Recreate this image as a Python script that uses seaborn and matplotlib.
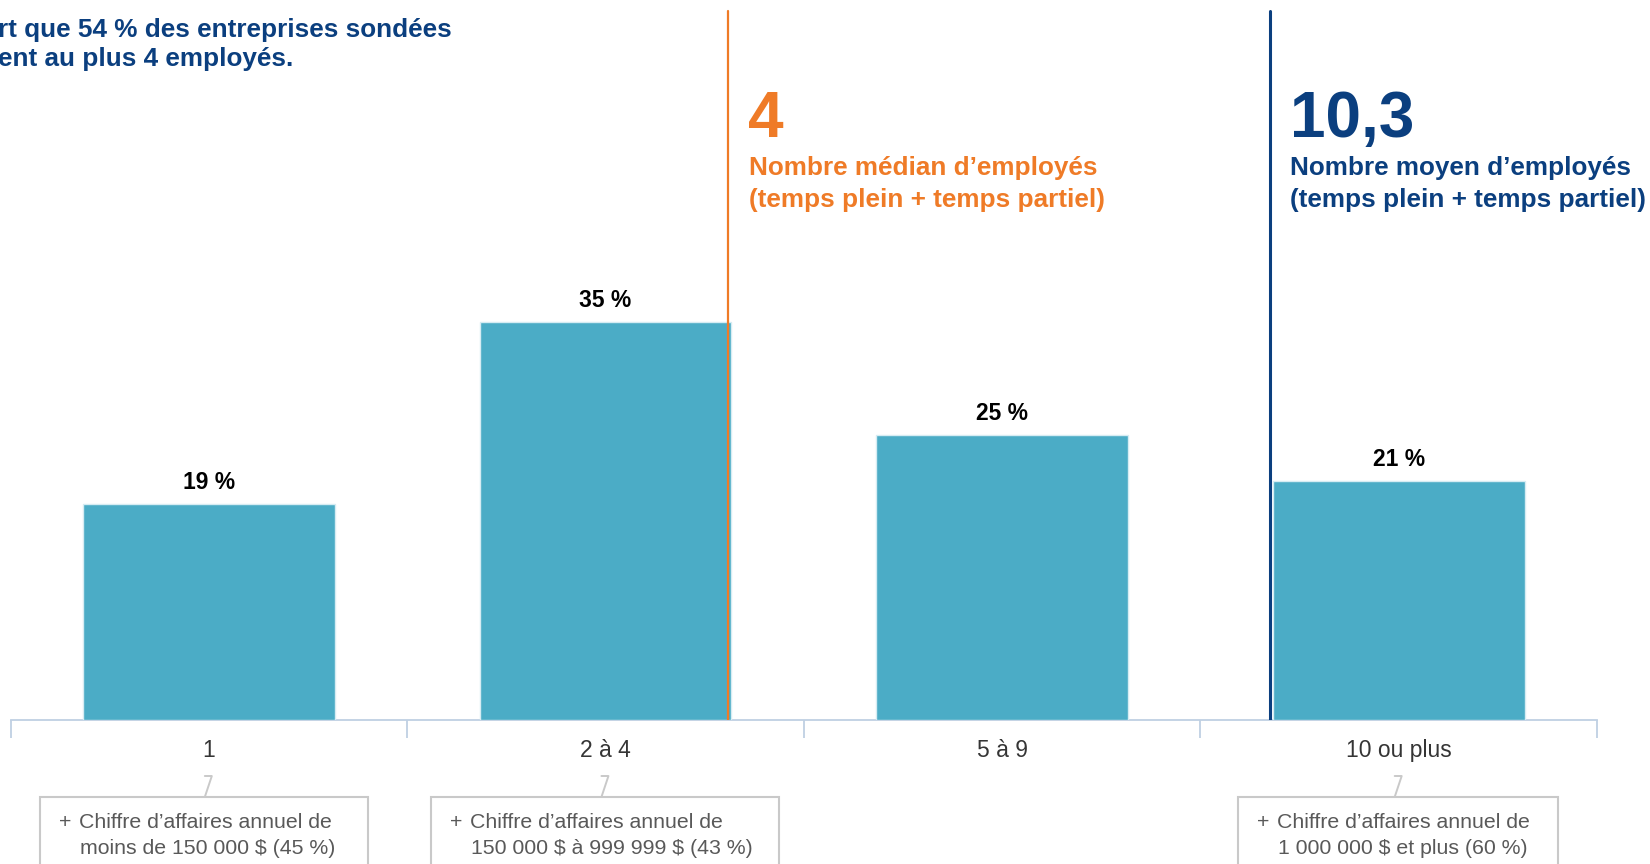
import matplotlib
matplotlib.use("Agg")
import matplotlib.pyplot as plt
from matplotlib import font_manager
from matplotlib.patches import Rectangle
from matplotlib.lines import Line2D
import seaborn as sns
import pandas as pd

# data
categories = ["1", "2 à 4", "5 à 9", "10 ou plus"]
shares = [19, 35, 25, 21]
share_labels = ["19 %", "35 %", "25 %", "21 %"]

median_value = "4"
median_text = ["Nombre médian d\u2019employés", "(temps plein + temps partiel)"]
mean_value = "10,3"
mean_text = ["Nombre moyen d\u2019employés", "(temps plein + temps partiel)"]

headline = ["rt que 54 % des entreprises sondées", "ent au plus 4 employés."]

box_categories = ["1", "2 à 4", "10 ou plus"]
box_lines = [
    ["Chiffre d\u2019affaires annuel de", "moins de 150 000 \\$ (45 %)"],
    ["Chiffre d\u2019affaires annuel de", "150 000 \\$ à 999 999 \\$ (43 %)"],
    ["Chiffre d\u2019affaires annuel de", "1 000 000 \\$ et plus (60 %)"],
]
box_left = [40, 431, 1238]
box_right = [368, 779, 1558]

BAR = "#4BACC6"
ORANGE = "#EF7B27"
NAVY = "#0B3F7F"
AXIS = "#BFD0E3"
BOXGREY = "#C9C9C9"

W, H = 1650, 864


def fx(px):
    return px / W


def fy(py):
    return 1 - py / H


# keep the narrow Liberation cut from being picked for "Liberation Sans"
font_manager.fontManager.ttflist = [f for f in font_manager.fontManager.ttflist
                                    if "Narrow" not in f.fname]

sns.set_theme(style="white")
plt.rcParams["font.family"] = ["Liberation Sans", "DejaVu Sans"]

fig = plt.figure(figsize=(16.5, 8.64), dpi=100)
ax = fig.add_axes([fx(10.5), fy(719.5), fx(1597) - fx(10.5), 719.5 / H])

df = pd.DataFrame({"cat": categories, "share": shares})
bar_w = 0.635
sns.barplot(data=df, x="cat", y="share", color=BAR, saturation=1, width=bar_w,
            edgecolor="#D6ECF3", linewidth=1, zorder=3, ax=ax)

ax.set_xlim(-0.5, 3.5)
ax.set_ylim(0, 63.3)
ax.set_xlabel("")
ax.set_ylabel("")
ax.set_yticks([])
for s in ["left", "top", "right"]:
    ax.spines[s].set_visible(False)
ax.spines["bottom"].set_color(AXIS)
ax.spines["bottom"].set_linewidth(1.3)
ax.spines["bottom"].set_zorder(1)

ax.set_xticks(range(len(categories)))
ax.set_xticklabels(categories)
ax.set_xticks([i - 0.5 for i in range(len(categories) + 1)], minor=True)
ax.tick_params(axis="x", which="major", length=0, pad=14, labelsize=16.5, labelcolor="#353535")
ax.tick_params(axis="x", which="minor", length=13, width=1.3, color=AXIS, direction="out")
ax.xaxis.set_ticks_position("bottom")

for i, (v, lab) in enumerate(zip(shares, share_labels)):
    ax.text(i, v + 1.32, lab, ha="center", va="baseline", fontsize=16.5,
            fontweight="bold", color="black")

# median / mean markers sit on the bar edges
top_frac = (719.5 - 10.5) / 719.5
ax.axvline(1 + bar_w / 2 - 0.008, ymin=0, ymax=top_frac, color=ORANGE, lw=1.6, zorder=4)
ax.axvline(3 - bar_w / 2 - 0.008, ymin=0, ymax=top_frac, color=NAVY, lw=2.2, zorder=4)

# headline, cut at the left edge
fig.text(fx(-2), fy(37), headline[0], ha="left", va="baseline", fontsize=18.8,
         fontweight="bold", color=NAVY)
fig.text(fx(-2), fy(66), headline[1], ha="left", va="baseline", fontsize=18.8,
         fontweight="bold", color=NAVY)

fig.text(fx(748), fy(137), median_value, ha="left", va="baseline", fontsize=46,
         fontweight="bold", color=ORANGE)
fig.text(fx(749), fy(175), median_text[0], ha="left", va="baseline", fontsize=18.8,
         fontweight="bold", color=ORANGE)
fig.text(fx(749), fy(207), median_text[1], ha="left", va="baseline", fontsize=18.8,
         fontweight="bold", color=ORANGE)

fig.text(fx(1290), fy(137), mean_value, ha="left", va="baseline", fontsize=46,
         fontweight="bold", color=NAVY)
fig.text(fx(1290), fy(175), mean_text[0], ha="left", va="baseline", fontsize=18.8,
         fontweight="bold", color=NAVY)
fig.text(fx(1290), fy(207), mean_text[1], ha="left", va="baseline", fontsize=18.8,
         fontweight="bold", color=NAVY)

# call-out boxes under some categories
for cat, lines, x0, x1 in zip(box_categories, box_lines, box_left, box_right):
    i = categories.index(cat)
    cx = ax.transData.transform((i, 0))[0]
    fig.add_artist(Line2D([fx(cx - 4), fx(cx + 3), fx(cx - 4)], [fy(776), fy(776), fy(797)],
                          transform=fig.transFigure, color=BOXGREY, lw=1.4))
    fig.add_artist(Rectangle((fx(x0), fy(900)), fx(x1) - fx(x0), fy(797) - fy(900),
                             transform=fig.transFigure, fill=False, ec=BOXGREY, lw=1.5))
    fig.text(fx(x0 + 19), fy(828), "+", ha="left", va="baseline", fontsize=15.3, color="#595959")
    fig.text(fx(x0 + 39), fy(828), lines[0], ha="left", va="baseline", fontsize=15.3, color="#595959")
    fig.text(fx(x0 + 40), fy(854), lines[1], ha="left", va="baseline", fontsize=15.3, color="#595959")

fig.savefig("out.png", dpi=100)
